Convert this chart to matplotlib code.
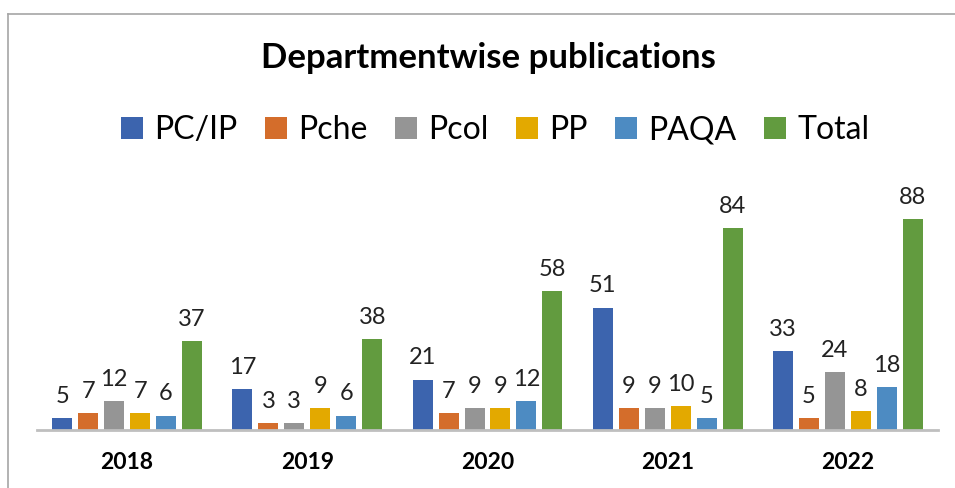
import matplotlib.pyplot as plt
import numpy as np

years = ["2018", "2019", "2020", "2021", "2022"]
series = ["PC/IP", "Pche", "Pcol", "PP", "PAQA", "Total"]
pc_ip = [5, 17, 21, 51, 33]
pche = [7, 3, 7, 9, 5]
pcol = [12, 3, 9, 9, 24]
pp = [7, 9, 9, 10, 8]
paqa = [6, 6, 12, 5, 18]
total = [37, 38, 58, 84, 88]
colors = ["#3c64ae", "#d46d2b", "#959595", "#e3a900", "#4d8bc2", "#629b3f"]

plt.rcParams['font.family'] = ['Lato', 'DejaVu Sans']

fig = plt.figure(figsize=(9.55, 4.88), dpi=100)
ax = fig.add_axes([37/955, 58/488, 901/955, 240/488])

x = np.arange(len(years))
pitch = 0.144
width = 0.111
all_vals = [pc_ip, pche, pcol, pp, paqa, total]
for i, (name, vals) in enumerate(zip(series, all_vals)):
    pos = x + (i - 2.5) * pitch
    bars = ax.bar(pos, vals, width, color=colors[i], label=name)
    for b, v in zip(bars, vals):
        ax.annotate(str(v), (b.get_x() + b.get_width()/2, v), xytext=(0, 8),
                    textcoords="offset points", ha="center", va="bottom",
                    fontsize=17, color="#222222")

ax.set_xlim(-0.5, 4.5)
ax.set_ylim(0, 100)
ax.set_yticks([])
ax.set_xticks(x)
ax.set_xticklabels(years, fontsize=16.5, fontweight="bold")
ax.tick_params(axis="x", length=0, pad=16)
for s in ["top", "right", "left"]:
    ax.spines[s].set_visible(False)
ax.spines["bottom"].set_color("#bfbfbf")
ax.spines["bottom"].set_linewidth(2)

fig.text(488/955, 1 - 58/488, "Departmentwise publications", ha="center", va="center",
         fontsize=25, fontweight="bold")
fig.legend(loc="center", bbox_to_anchor=(495/955, 1 - 130/488), ncol=6, frameon=False,
           fontsize=23, handlelength=0.7, handleheight=0.7, handletextpad=0.35,
           columnspacing=0.85)

# chart frame
fig.add_artist(plt.Line2D([8/955, 8/955], [0, 1 - 14/488], color="#a6a6a6", lw=1.2))
fig.add_artist(plt.Line2D([8/955, 1], [1 - 14/488, 1 - 14/488], color="#a6a6a6", lw=1.2))

fig.savefig("out.png", dpi=100)
